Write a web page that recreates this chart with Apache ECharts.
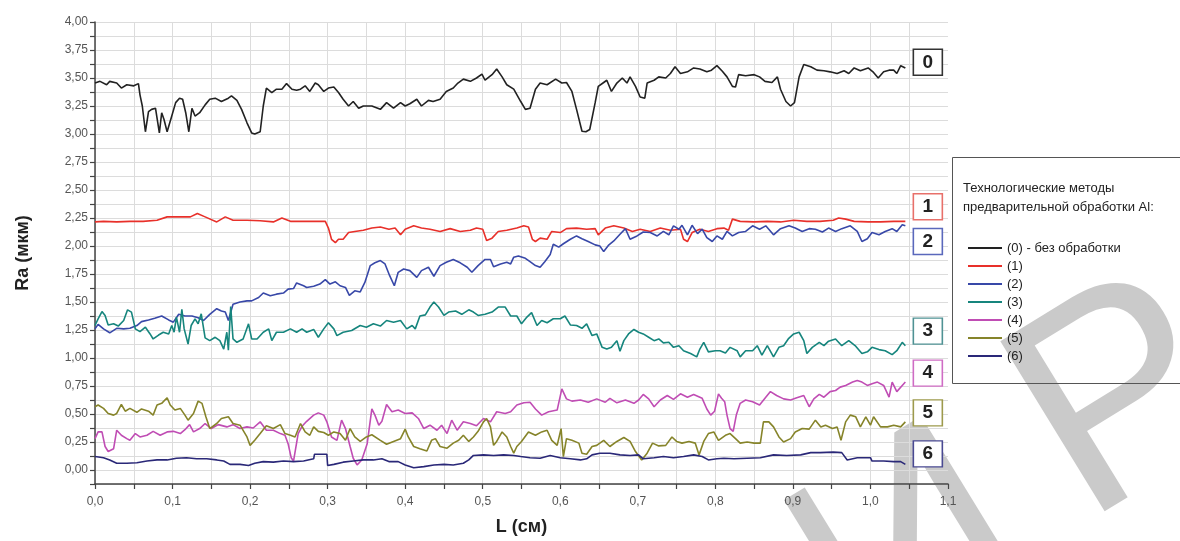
<!DOCTYPE html>
<html>
<head>
<meta charset="utf-8">
<title>Ra (мкм)</title>
<script src="https://cdn.jsdelivr.net/npm/echarts@6/dist/echarts.min.js"></script>
<style>
  html, body { margin: 0; padding: 0; background: #fff; }
  #chart { width: 1180px; height: 541px; }
</style>
</head>
<body>
<div id="chart"></div>
<script>
// названия серий (легенда)
var seriesNames = ['(0) - без обработки', '(1)', '(2)', '(3)', '(4)', '(5)', '(6)'];
var tagTexts = ['0', '1', '2', '3', '4', '5', '6'];

// (0) - без обработки
var s0 = [[0,3.455],[0.0065,3.47],[0.015,3.44],[0.019,3.47],[0.028,3.455],[0.034,3.41],[0.041,3.44],[0.05,3.43],[0.056,3.45],[0.058,3.35],[0.061,3.25],[0.065,3.02],[0.069,3.2],[0.073,3.22],[0.078,3.23],[0.083,3.01],[0.086,3.19],[0.089,3.13],[0.093,3.02],[0.099,3.16],[0.104,3.28],[0.109,3.32],[0.113,3.31],[0.117,3.19],[0.121,3.02],[0.125,3.23],[0.129,3.16],[0.135,3.19],[0.142,3.26],[0.148,3.31],[0.155,3.32],[0.163,3.29],[0.172,3.32],[0.176,3.34],[0.183,3.3],[0.189,3.22],[0.196,3.1],[0.202,3.01],[0.206,3.0],[0.213,3.02],[0.217,3.25],[0.221,3.41],[0.228,3.37],[0.234,3.4],[0.241,3.4],[0.247,3.45],[0.254,3.4],[0.26,3.39],[0.265,3.4],[0.271,3.43],[0.277,3.38],[0.284,3.455],[0.288,3.44],[0.295,3.38],[0.301,3.41],[0.308,3.42],[0.314,3.37],[0.32,3.31],[0.327,3.25],[0.333,3.29],[0.34,3.23],[0.346,3.25],[0.357,3.25],[0.368,3.22],[0.376,3.28],[0.385,3.23],[0.394,3.28],[0.4,3.25],[0.406,3.27],[0.415,3.31],[0.421,3.25],[0.43,3.3],[0.436,3.29],[0.445,3.31],[0.453,3.38],[0.462,3.41],[0.468,3.455],[0.475,3.49],[0.484,3.47],[0.492,3.5],[0.499,3.535],[0.503,3.48],[0.512,3.53],[0.518,3.58],[0.525,3.51],[0.531,3.44],[0.54,3.4],[0.549,3.29],[0.555,3.22],[0.561,3.23],[0.568,3.4],[0.574,3.455],[0.583,3.44],[0.594,3.49],[0.602,3.455],[0.608,3.46],[0.615,3.38],[0.621,3.22],[0.628,3.025],[0.633,3.02],[0.638,3.04],[0.645,3.28],[0.649,3.425],[0.656,3.46],[0.66,3.48],[0.666,3.38],[0.673,3.455],[0.68,3.5],[0.686,3.455],[0.69,3.51],[0.697,3.425],[0.703,3.33],[0.709,3.32],[0.712,3.455],[0.721,3.48],[0.727,3.51],[0.736,3.5],[0.742,3.54],[0.748,3.6],[0.755,3.54],[0.764,3.555],[0.772,3.59],[0.78,3.58],[0.789,3.555],[0.795,3.57],[0.802,3.61],[0.809,3.56],[0.815,3.51],[0.822,3.425],[0.826,3.42],[0.83,3.53],[0.839,3.52],[0.85,3.53],[0.857,3.51],[0.864,3.47],[0.873,3.46],[0.88,3.51],[0.884,3.4],[0.891,3.29],[0.897,3.25],[0.902,3.28],[0.908,3.51],[0.914,3.62],[0.923,3.6],[0.931,3.57],[0.94,3.565],[0.948,3.555],[0.957,3.54],[0.966,3.565],[0.972,3.54],[0.979,3.59],[0.987,3.565],[0.997,3.59],[1.004,3.55],[1.01,3.5],[1.017,3.555],[1.024,3.57],[1.03,3.57],[1.034,3.54],[1.039,3.61],[1.045,3.59]];

// (1)
var s1 = [[0,2.215],[0.011,2.22],[0.028,2.215],[0.045,2.22],[0.062,2.22],[0.08,2.23],[0.093,2.26],[0.11,2.26],[0.123,2.26],[0.132,2.29],[0.142,2.26],[0.157,2.215],[0.168,2.26],[0.178,2.23],[0.196,2.23],[0.213,2.225],[0.23,2.215],[0.241,2.25],[0.252,2.22],[0.269,2.22],[0.297,2.22],[0.301,2.16],[0.305,2.06],[0.31,2.03],[0.314,2.06],[0.32,2.06],[0.327,2.12],[0.335,2.13],[0.346,2.14],[0.357,2.16],[0.368,2.17],[0.379,2.15],[0.387,2.16],[0.394,2.1],[0.4,2.15],[0.411,2.18],[0.421,2.16],[0.432,2.15],[0.445,2.13],[0.458,2.155],[0.471,2.13],[0.484,2.14],[0.492,2.16],[0.5,2.15],[0.505,2.05],[0.512,2.07],[0.52,2.13],[0.531,2.14],[0.544,2.16],[0.553,2.18],[0.559,2.17],[0.564,2.06],[0.568,2.04],[0.574,2.07],[0.583,2.06],[0.589,2.13],[0.6,2.12],[0.608,2.155],[0.621,2.16],[0.634,2.15],[0.645,2.155],[0.649,2.1],[0.658,2.16],[0.669,2.18],[0.682,2.16],[0.693,2.13],[0.703,2.15],[0.716,2.13],[0.729,2.16],[0.742,2.14],[0.755,2.15],[0.759,2.06],[0.764,2.04],[0.77,2.12],[0.78,2.15],[0.791,2.13],[0.802,2.155],[0.811,2.16],[0.817,2.14],[0.822,2.24],[0.832,2.22],[0.85,2.215],[0.867,2.22],[0.884,2.215],[0.901,2.23],[0.918,2.22],[0.935,2.22],[0.952,2.23],[0.959,2.25],[0.968,2.24],[0.979,2.22],[0.997,2.215],[1.013,2.215],[1.03,2.22],[1.045,2.22]];

// (2)
var s2 = [[0,1.26],[0.004,1.3],[0.011,1.26],[0.019,1.225],[0.028,1.265],[0.037,1.26],[0.045,1.265],[0.054,1.29],[0.06,1.325],[0.069,1.34],[0.077,1.355],[0.086,1.375],[0.095,1.34],[0.101,1.32],[0.108,1.39],[0.116,1.375],[0.125,1.375],[0.133,1.36],[0.14,1.335],[0.148,1.39],[0.157,1.44],[0.163,1.42],[0.168,1.41],[0.172,1.335],[0.178,1.48],[0.187,1.5],[0.196,1.51],[0.202,1.51],[0.211,1.54],[0.217,1.58],[0.226,1.555],[0.234,1.57],[0.243,1.58],[0.249,1.615],[0.256,1.62],[0.26,1.67],[0.269,1.645],[0.273,1.63],[0.282,1.64],[0.29,1.66],[0.297,1.7],[0.303,1.66],[0.31,1.68],[0.316,1.645],[0.323,1.63],[0.328,1.56],[0.335,1.6],[0.342,1.59],[0.348,1.675],[0.355,1.825],[0.361,1.85],[0.368,1.87],[0.374,1.84],[0.38,1.735],[0.386,1.645],[0.391,1.765],[0.398,1.795],[0.406,1.78],[0.415,1.72],[0.421,1.78],[0.43,1.81],[0.437,1.73],[0.445,1.825],[0.453,1.855],[0.462,1.88],[0.471,1.85],[0.48,1.81],[0.486,1.765],[0.494,1.825],[0.503,1.88],[0.51,1.88],[0.514,1.815],[0.523,1.84],[0.531,1.855],[0.536,1.84],[0.54,1.9],[0.546,1.91],[0.555,1.89],[0.561,1.86],[0.568,1.825],[0.574,1.81],[0.58,1.86],[0.587,1.925],[0.591,2.015],[0.598,1.99],[0.604,2.02],[0.613,2.06],[0.621,2.09],[0.628,2.065],[0.636,2.04],[0.645,2.01],[0.651,2.0],[0.656,1.95],[0.662,2.005],[0.669,2.045],[0.677,2.105],[0.684,2.155],[0.69,2.06],[0.699,2.09],[0.707,2.125],[0.716,2.12],[0.725,2.09],[0.733,2.13],[0.74,2.1],[0.746,2.18],[0.753,2.15],[0.757,2.185],[0.764,2.1],[0.77,2.185],[0.777,2.11],[0.783,2.15],[0.789,2.075],[0.796,2.04],[0.802,2.09],[0.809,2.06],[0.815,2.13],[0.822,2.09],[0.83,2.12],[0.839,2.13],[0.848,2.18],[0.857,2.15],[0.865,2.18],[0.875,2.1],[0.884,2.155],[0.895,2.18],[0.903,2.16],[0.912,2.13],[0.921,2.155],[0.929,2.15],[0.938,2.125],[0.946,2.16],[0.955,2.13],[0.963,2.155],[0.974,2.18],[0.983,2.13],[0.989,2.04],[0.996,2.065],[1.002,2.12],[1.011,2.1],[1.019,2.13],[1.028,2.155],[1.034,2.13],[1.041,2.19],[1.045,2.18]];

// (3)
var s3 = [[0,1.29],[0.004,1.35],[0.009,1.415],[0.013,1.38],[0.017,1.295],[0.024,1.305],[0.03,1.285],[0.037,1.335],[0.042,1.43],[0.047,1.41],[0.052,1.26],[0.058,1.235],[0.065,1.275],[0.071,1.215],[0.075,1.17],[0.082,1.205],[0.088,1.23],[0.095,1.215],[0.099,1.29],[0.102,1.23],[0.105,1.365],[0.109,1.23],[0.112,1.435],[0.115,1.26],[0.12,1.125],[0.124,1.29],[0.129,1.35],[0.133,1.305],[0.137,1.395],[0.142,1.18],[0.148,1.155],[0.155,1.185],[0.161,1.155],[0.166,1.08],[0.17,1.23],[0.172,1.07],[0.175,1.46],[0.178,1.17],[0.183,1.14],[0.191,1.17],[0.198,1.305],[0.202,1.17],[0.209,1.17],[0.217,1.23],[0.224,1.26],[0.228,1.155],[0.234,1.23],[0.243,1.23],[0.252,1.26],[0.26,1.23],[0.267,1.26],[0.273,1.23],[0.282,1.255],[0.288,1.185],[0.295,1.26],[0.301,1.315],[0.308,1.26],[0.312,1.2],[0.32,1.23],[0.331,1.245],[0.342,1.29],[0.35,1.275],[0.359,1.305],[0.368,1.285],[0.376,1.335],[0.385,1.32],[0.394,1.335],[0.402,1.26],[0.409,1.29],[0.413,1.26],[0.419,1.375],[0.426,1.385],[0.432,1.455],[0.437,1.5],[0.443,1.455],[0.45,1.38],[0.456,1.41],[0.465,1.42],[0.473,1.39],[0.482,1.43],[0.488,1.41],[0.494,1.38],[0.503,1.39],[0.512,1.41],[0.52,1.455],[0.529,1.455],[0.536,1.375],[0.544,1.375],[0.55,1.305],[0.557,1.365],[0.563,1.405],[0.57,1.29],[0.576,1.335],[0.583,1.315],[0.591,1.35],[0.6,1.35],[0.606,1.375],[0.613,1.295],[0.621,1.29],[0.628,1.265],[0.634,1.305],[0.641,1.2],[0.647,1.215],[0.654,1.095],[0.66,1.08],[0.666,1.095],[0.673,1.155],[0.677,1.06],[0.682,1.155],[0.688,1.215],[0.695,1.255],[0.701,1.23],[0.707,1.215],[0.714,1.185],[0.721,1.155],[0.727,1.17],[0.733,1.135],[0.74,1.14],[0.746,1.095],[0.753,1.11],[0.759,1.065],[0.768,1.04],[0.776,1.01],[0.78,1.08],[0.785,1.14],[0.791,1.055],[0.8,1.065],[0.806,1.065],[0.813,1.045],[0.819,1.095],[0.828,1.065],[0.832,1.01],[0.839,1.065],[0.848,1.065],[0.854,1.11],[0.86,1.025],[0.867,1.11],[0.875,1.01],[0.882,1.095],[0.888,1.11],[0.894,1.17],[0.901,1.215],[0.908,1.23],[0.914,1.155],[0.918,1.04],[0.925,1.095],[0.934,1.14],[0.94,1.11],[0.946,1.15],[0.955,1.17],[0.963,1.11],[0.972,1.155],[0.981,1.105],[0.989,1.04],[0.996,1.055],[1.002,1.095],[1.011,1.075],[1.019,1.065],[1.028,1.03],[1.034,1.065],[1.041,1.14],[1.045,1.11]];

// (4)
var s4 = [[0,0.28],[0.004,0.34],[0.009,0.34],[0.013,0.21],[0.017,0.165],[0.024,0.19],[0.028,0.355],[0.034,0.31],[0.041,0.28],[0.045,0.265],[0.052,0.325],[0.058,0.295],[0.067,0.31],[0.075,0.345],[0.084,0.31],[0.093,0.34],[0.101,0.345],[0.11,0.325],[0.116,0.36],[0.122,0.405],[0.127,0.34],[0.135,0.37],[0.142,0.415],[0.15,0.37],[0.159,0.405],[0.17,0.385],[0.178,0.405],[0.187,0.37],[0.196,0.385],[0.204,0.375],[0.213,0.43],[0.221,0.355],[0.23,0.355],[0.239,0.325],[0.245,0.31],[0.249,0.235],[0.253,0.11],[0.256,0.08],[0.262,0.325],[0.267,0.39],[0.273,0.435],[0.282,0.49],[0.288,0.51],[0.295,0.49],[0.299,0.43],[0.305,0.295],[0.312,0.265],[0.318,0.445],[0.323,0.37],[0.329,0.21],[0.333,0.105],[0.338,0.045],[0.344,0.09],[0.351,0.235],[0.357,0.545],[0.361,0.49],[0.366,0.4],[0.37,0.435],[0.376,0.585],[0.383,0.52],[0.391,0.535],[0.4,0.505],[0.409,0.51],[0.417,0.46],[0.424,0.37],[0.432,0.4],[0.441,0.355],[0.447,0.4],[0.454,0.325],[0.46,0.445],[0.467,0.355],[0.475,0.43],[0.484,0.415],[0.492,0.395],[0.501,0.46],[0.51,0.43],[0.518,0.52],[0.529,0.505],[0.536,0.52],[0.544,0.58],[0.553,0.6],[0.561,0.605],[0.568,0.545],[0.576,0.49],[0.585,0.52],[0.596,0.535],[0.602,0.725],[0.608,0.635],[0.615,0.615],[0.626,0.625],[0.636,0.605],[0.647,0.635],[0.658,0.605],[0.664,0.64],[0.673,0.6],[0.684,0.625],[0.695,0.595],[0.701,0.625],[0.707,0.675],[0.714,0.635],[0.721,0.565],[0.729,0.625],[0.738,0.665],[0.746,0.63],[0.755,0.68],[0.764,0.65],[0.772,0.675],[0.783,0.64],[0.789,0.545],[0.794,0.49],[0.799,0.525],[0.804,0.68],[0.808,0.64],[0.812,0.61],[0.815,0.49],[0.819,0.37],[0.823,0.345],[0.827,0.49],[0.832,0.595],[0.839,0.625],[0.848,0.61],[0.857,0.58],[0.865,0.65],[0.871,0.7],[0.879,0.665],[0.888,0.635],[0.897,0.625],[0.905,0.645],[0.914,0.665],[0.921,0.565],[0.927,0.635],[0.934,0.675],[0.94,0.65],[0.948,0.7],[0.955,0.71],[0.961,0.74],[0.968,0.755],[0.977,0.785],[0.983,0.8],[0.989,0.785],[0.996,0.755],[1.002,0.77],[1.009,0.785],[1.017,0.755],[1.024,0.65],[1.028,0.785],[1.034,0.7],[1.041,0.755],[1.045,0.785]];

// (5)
var s5 = [[0,0.565],[0.004,0.58],[0.011,0.55],[0.017,0.505],[0.024,0.49],[0.028,0.505],[0.034,0.585],[0.039,0.525],[0.045,0.55],[0.054,0.515],[0.06,0.545],[0.069,0.525],[0.075,0.49],[0.08,0.58],[0.086,0.595],[0.093,0.645],[0.097,0.58],[0.103,0.535],[0.11,0.55],[0.116,0.49],[0.12,0.445],[0.127,0.505],[0.133,0.615],[0.138,0.595],[0.143,0.475],[0.148,0.37],[0.157,0.415],[0.163,0.46],[0.172,0.475],[0.178,0.415],[0.187,0.4],[0.196,0.295],[0.2,0.22],[0.206,0.265],[0.213,0.325],[0.221,0.395],[0.23,0.37],[0.239,0.405],[0.245,0.325],[0.252,0.31],[0.258,0.295],[0.265,0.415],[0.271,0.34],[0.277,0.31],[0.282,0.385],[0.288,0.345],[0.295,0.335],[0.301,0.31],[0.308,0.34],[0.316,0.325],[0.323,0.265],[0.329,0.37],[0.335,0.295],[0.342,0.255],[0.35,0.295],[0.357,0.315],[0.368,0.265],[0.376,0.23],[0.385,0.255],[0.394,0.28],[0.4,0.365],[0.404,0.295],[0.411,0.21],[0.419,0.19],[0.428,0.17],[0.434,0.265],[0.439,0.28],[0.445,0.21],[0.454,0.195],[0.462,0.24],[0.469,0.265],[0.475,0.31],[0.482,0.255],[0.488,0.295],[0.494,0.345],[0.501,0.43],[0.505,0.46],[0.51,0.385],[0.514,0.22],[0.518,0.255],[0.525,0.34],[0.531,0.295],[0.536,0.21],[0.54,0.15],[0.544,0.21],[0.55,0.255],[0.559,0.34],[0.568,0.31],[0.576,0.34],[0.583,0.355],[0.589,0.265],[0.596,0.22],[0.601,0.37],[0.604,0.12],[0.608,0.28],[0.615,0.265],[0.624,0.24],[0.628,0.15],[0.634,0.14],[0.641,0.21],[0.647,0.22],[0.656,0.265],[0.664,0.21],[0.673,0.255],[0.682,0.29],[0.69,0.255],[0.697,0.165],[0.705,0.09],[0.712,0.15],[0.719,0.24],[0.727,0.215],[0.736,0.22],[0.744,0.295],[0.75,0.255],[0.757,0.24],[0.766,0.255],[0.774,0.24],[0.779,0.135],[0.785,0.255],[0.791,0.325],[0.798,0.34],[0.804,0.265],[0.813,0.31],[0.819,0.325],[0.826,0.28],[0.832,0.24],[0.841,0.25],[0.85,0.24],[0.858,0.24],[0.862,0.43],[0.869,0.43],[0.875,0.385],[0.882,0.295],[0.888,0.25],[0.897,0.28],[0.903,0.34],[0.912,0.37],[0.921,0.365],[0.929,0.445],[0.936,0.385],[0.942,0.4],[0.951,0.37],[0.957,0.385],[0.962,0.265],[0.968,0.43],[0.974,0.49],[0.981,0.475],[0.987,0.385],[0.994,0.475],[1.0,0.4],[1.004,0.475],[1.013,0.385],[1.022,0.385],[1.03,0.4],[1.039,0.385],[1.045,0.43]];

// (6)
var s6 = [[0,0.12],[0.011,0.11],[0.019,0.09],[0.028,0.06],[0.041,0.06],[0.054,0.065],[0.067,0.08],[0.08,0.09],[0.093,0.09],[0.105,0.105],[0.118,0.11],[0.131,0.1],[0.144,0.1],[0.157,0.09],[0.166,0.08],[0.174,0.05],[0.187,0.05],[0.198,0.04],[0.206,0.06],[0.217,0.075],[0.23,0.07],[0.243,0.08],[0.256,0.075],[0.269,0.08],[0.282,0.1],[0.283,0.14],[0.299,0.14],[0.3,0.04],[0.308,0.05],[0.32,0.07],[0.333,0.08],[0.346,0.09],[0.359,0.09],[0.37,0.1],[0.379,0.075],[0.391,0.075],[0.4,0.045],[0.411,0.02],[0.424,0.03],[0.437,0.045],[0.45,0.05],[0.462,0.045],[0.475,0.06],[0.482,0.09],[0.488,0.13],[0.501,0.135],[0.514,0.13],[0.527,0.135],[0.54,0.13],[0.549,0.12],[0.561,0.11],[0.574,0.105],[0.587,0.13],[0.6,0.11],[0.613,0.1],[0.626,0.09],[0.634,0.1],[0.641,0.135],[0.651,0.15],[0.664,0.15],[0.677,0.135],[0.69,0.13],[0.701,0.135],[0.707,0.1],[0.721,0.11],[0.733,0.12],[0.746,0.11],[0.759,0.12],[0.772,0.135],[0.783,0.12],[0.791,0.09],[0.802,0.1],[0.811,0.105],[0.824,0.1],[0.841,0.105],[0.858,0.11],[0.875,0.135],[0.892,0.13],[0.91,0.135],[0.923,0.155],[0.935,0.155],[0.952,0.16],[0.963,0.155],[0.97,0.09],[0.983,0.11],[1.0,0.11],[1.002,0.08],[1.017,0.08],[1.03,0.075],[1.039,0.075],[1.045,0.05]];

var allData = [s0, s1, s2, s3, s4, s5, s6];

// где стоят рамки с номерами кривых (в единицах осей)
var tagX = 1.074;
var tagY = [3.64, 2.35, 2.04, 1.24, 0.865, 0.51, 0.144];

var lineColors = ['#222222', '#e8302a', '#3848a8', '#16857d', '#c04db4', '#86842a', '#2a2878'];
var tagBorders = ['#333333', '#e8706a', '#5a68bc', '#4f9294', '#cf6cc4', '#9d9a4c', '#4a4a92'];

var FONT = '"Liberation Sans", Arial, sans-serif';

var chart = echarts.init(document.getElementById('chart'));

function fmtComma(v, digits) {
  return v.toFixed(digits).replace('.', ',');
}

var series = [];
for (var i = 0; i < allData.length; i++) {
  series.push({
    name: seriesNames[i],
    type: 'line',
    data: allData[i],
    showSymbol: false,
    symbol: 'none',
    silent: true,
    animation: false,
    lineStyle: { width: 1.6, color: lineColors[i] },
    itemStyle: { color: lineColors[i] },
    markPoint: {
      silent: true,
      symbol: 'rect',
      symbolSize: [29, 26],
      itemStyle: { color: '#fff', borderColor: tagBorders[i], borderWidth: 1.5 },
      label: {
        show: true,
        position: 'inside',
        formatter: tagTexts[i],
        color: '#222',
        fontSize: 19,
        fontWeight: 'bold',
        fontFamily: FONT
      },
      data: [{ coord: [tagX, tagY[i]], value: tagTexts[i] }]
    }
  });
}

var option = {
  backgroundColor: '#fff',
  animation: false,
  grid: { left: 95, right: 232, top: 22, bottom: 57, containLabel: false },
  xAxis: {
    type: 'value',
    min: 0,
    max: 1.1,
    interval: 0.05,
    name: 'L (см)',
    nameLocation: 'middle',
    nameGap: 34,
    nameTextStyle: { fontSize: 18, fontWeight: 'bold', color: '#222', fontFamily: FONT },
    axisLine: { show: true, onZero: false, lineStyle: { color: '#444', width: 1.5 } },
    axisTick: { show: true, inside: false, length: 5, lineStyle: { color: '#444', width: 1.2 } },
    axisLabel: {
      margin: 12,
      color: '#555',
      fontSize: 12,
      fontFamily: FONT,
      formatter: function (v) {
        if (Math.round(v * 20) % 2 !== 0) return '';
        return fmtComma(v, 1);
      }
    },
    splitLine: { show: true, showMaxLine: false, lineStyle: { color: '#dcdcdc', width: 1 } }
  },
  yAxis: {
    type: 'value',
    min: -0.125,
    max: 4,
    interval: 0.125,
    name: 'Ra (мкм)',
    nameLocation: 'middle',
    nameGap: 63,
    nameTextStyle: { fontSize: 18, fontWeight: 'bold', color: '#222', fontFamily: FONT },
    axisLine: { show: true, onZero: false, lineStyle: { color: '#444', width: 1.5 } },
    axisTick: { show: true, inside: false, length: 5, lineStyle: { color: '#444', width: 1.2 } },
    axisLabel: {
      margin: 7,
      color: '#555',
      fontSize: 12,
      fontFamily: FONT,
      formatter: function (v) {
        if (v < 0 || Math.round(v * 8) % 2 !== 0) return '';
        return fmtComma(v, 2);
      }
    },
    splitLine: { show: true, lineStyle: { color: '#dcdcdc', width: 1 } }
  },
  legend: {
    orient: 'vertical',
    left: 963,
    top: 236,
    icon: 'rect',
    itemWidth: 34,
    itemHeight: 2,
    itemGap: 4,
    selectedMode: false,
    textStyle: { fontSize: 13, lineHeight: 14, color: '#222', fontFamily: FONT },
    data: seriesNames
  },
  graphic: [
    // водяной знак (под графиком)
    {
      type: 'text',
      z: -1,
      silent: true,
      x: 915, y: 560,
      rotation: 0.55,
      style: { text: 'И', font: '290px ' + FONT, fill: '#cacaca', align: 'center', verticalAlign: 'middle' }
    },
    {
      type: 'text',
      z: -1,
      silent: true,
      x: 1125, y: 405,
      rotation: 0.55,
      style: { text: 'Р', font: '290px ' + FONT, fill: '#cacaca', align: 'center', verticalAlign: 'middle' }
    },
    // рамка легенды
    {
      type: 'rect',
      z: 1,
      shape: { x: 952.5, y: 157.5, width: 240, height: 226 },
      style: { fill: 'none', stroke: '#555', lineWidth: 1 }
    },
    {
      type: 'text',
      z: 2,
      left: 963,
      top: 182,
      style: { text: 'Технологические методы', font: '13px ' + FONT, fill: '#222' }
    },
    {
      type: 'text',
      z: 2,
      left: 963,
      top: 201,
      style: { text: 'предварительной обработки Al:', font: '13px ' + FONT, fill: '#222' }
    }
  ],
  series: series
};

chart.setOption(option);
</script>
</body>
</html>
